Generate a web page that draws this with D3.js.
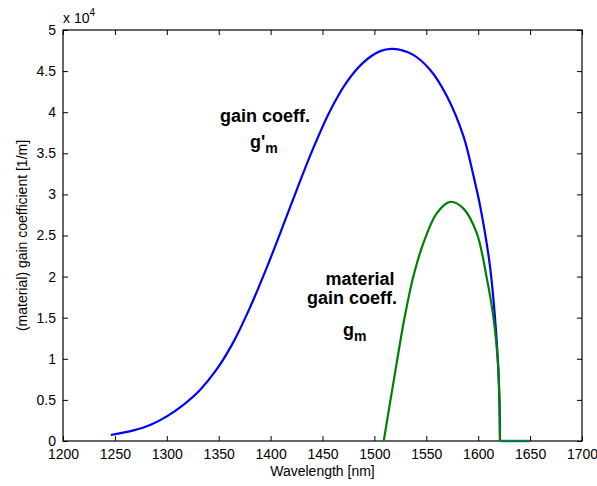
<!DOCTYPE html>
<html><head><meta charset="utf-8">
<script src="https://cdn.jsdelivr.net/npm/d3@7/dist/d3.min.js"></script>
<style>body{margin:0;background:#fff}svg{display:block;font-family:"Liberation Sans",Arial,sans-serif}</style>
</head><body><svg id="c" width="597" height="486"></svg>
<script>
// Data (values in units of 10^4 1/m)
const blueWavelength = [1246,1268,1284,1300,1316,1332,1348,1364,1380,1396,1409,1425,1441,1457,1473,1489,1505,1518,1537,1554,1570,1586,1595,1602,1611,1616,1619,1620.5,1621];
const blueGain = [0.073,0.13,0.195,0.30,0.44,0.62,0.87,1.20,1.62,2.10,2.52,3.05,3.56,4.01,4.36,4.60,4.74,4.77,4.70,4.51,4.19,3.70,3.25,2.85,2.16,1.53,0.97,0.48,0];
const blueTailWavelength = [1621,1650];
const blueTailGain = [0,0];
const greenWavelength = [1509,1515,1521.5,1528,1537.5,1547,1560,1573,1585.6,1598.6,1608,1614.5,1619,1620.5,1621];
const greenGain = [0,0.46,0.95,1.43,2.0,2.40,2.77,2.91,2.83,2.53,2.0,1.52,0.95,0.45,0];
const greenTailWavelength = [1621,1650];
const greenTailGain = [0,0];
const xTicks = [1200,1250,1300,1350,1400,1450,1500,1550,1600,1650,1700];
const yTicks = [0,0.5,1,1.5,2,2.5,3,3.5,4,4.5,5];

const svg = d3.select("#c");
const L = 63, R = 582, T = 30, B = 441;
const x = d3.scaleLinear().domain([1200,1700]).range([L,R]);
const y = d3.scaleLinear().domain([0,5]).range([B,T]);

// axes
const fmtX = d3.format("d");
const fmtY = v => String(v);
svg.append("g").attr("transform",`translate(0,${B})`)
  .call(d3.axisBottom(x).tickValues(xTicks).tickFormat(fmtX).tickSizeInner(-5).tickSizeOuter(0).tickPadding(8))
  .call(g=>{g.select(".domain").remove();g.selectAll("text").attr("font-size",14).attr("font-family","Liberation Sans, Arial").attr("fill","#000");g.selectAll("line").attr("stroke","#000");});
svg.append("g").attr("transform",`translate(0,${T})`)
  .call(d3.axisTop(x).tickValues(xTicks).tickFormat("").tickSizeInner(-5).tickSizeOuter(0))
  .call(g=>{g.select(".domain").remove();g.selectAll("line").attr("stroke","#000");});
svg.append("g").attr("transform",`translate(${L},0)`)
  .call(d3.axisLeft(y).tickValues(yTicks).tickFormat(fmtY).tickSizeInner(-5).tickSizeOuter(0).tickPadding(7))
  .call(g=>{g.select(".domain").remove();g.selectAll("text").attr("font-size",14).attr("font-family","Liberation Sans, Arial").attr("fill","#000");g.selectAll("line").attr("stroke","#000");});
svg.append("g").attr("transform",`translate(${R},0)`)
  .call(d3.axisRight(y).tickValues(yTicks).tickFormat("").tickSizeInner(-5).tickSizeOuter(0))
  .call(g=>{g.select(".domain").remove();g.selectAll("line").attr("stroke","#000");});
svg.append("rect").attr("x",L).attr("y",T).attr("width",R-L).attr("height",B-T)
  .attr("fill","none").attr("stroke","#000").attr("stroke-width",1.2);

// curves
const curve = d3.line().x(d=>x(d[0])).y(d=>y(d[1])).curve(d3.curveCatmullRom.alpha(0.5));
const straight = d3.line().x(d=>x(d[0])).y(d=>y(d[1]));
const zip = (a,b)=>a.map((w,i)=>[w,b[i]]);
svg.append("path").datum(zip(blueWavelength,blueGain))
  .attr("d",curve).attr("fill","none").attr("stroke","#0000ff").attr("stroke-width",2.2);
svg.append("path").datum(zip(blueTailWavelength,blueTailGain))
  .attr("d",straight).attr("fill","none").attr("stroke","#0000ff").attr("stroke-width",2.2);
svg.append("path").datum(zip(greenWavelength,greenGain))
  .attr("d",curve).attr("fill","none").attr("stroke","#008000").attr("stroke-width",2.2);
svg.append("path").datum(zip(greenTailWavelength,greenTailGain))
  .attr("d",straight).attr("fill","none").attr("stroke","#0a7a40").attr("stroke-width",2.2);

// exponent
const ex = svg.append("text").attr("x",63).attr("y",23).attr("font-size",14).attr("fill","#000");
ex.append("tspan").text("x 10");
ex.append("tspan").attr("dy",-7).attr("font-size",10).text("4");

// axis labels
svg.append("text").attr("x",(L+R)/2).attr("y",476).attr("text-anchor","middle").attr("font-size",14).text("Wavelength [nm]");
svg.append("text").attr("transform",`translate(27,${(T+B)/2}) rotate(-90)`).attr("text-anchor","middle").attr("font-size",14).text("(material) gain coefficient [1/m]");

// annotations
const bold = (t,xx,yy,anchor)=>svg.append("text").attr("x",xx).attr("y",yy).attr("text-anchor",anchor||"middle").attr("font-size",18).attr("font-weight","bold").text(t);
bold("gain coeff.",265,122);
const g1 = svg.append("text").attr("x",250).attr("y",148).attr("font-size",18).attr("font-weight","bold");
g1.append("tspan").text("g'");
g1.append("tspan").attr("dy",5).attr("font-size",14).text("m");
bold("material",360,285);
bold("gain coeff.",352,304);
const g2 = svg.append("text").attr("x",343).attr("y",336).attr("font-size",18).attr("font-weight","bold");
g2.append("tspan").text("g");
g2.append("tspan").attr("dy",5).attr("font-size",14).text("m");
</script></body></html>
